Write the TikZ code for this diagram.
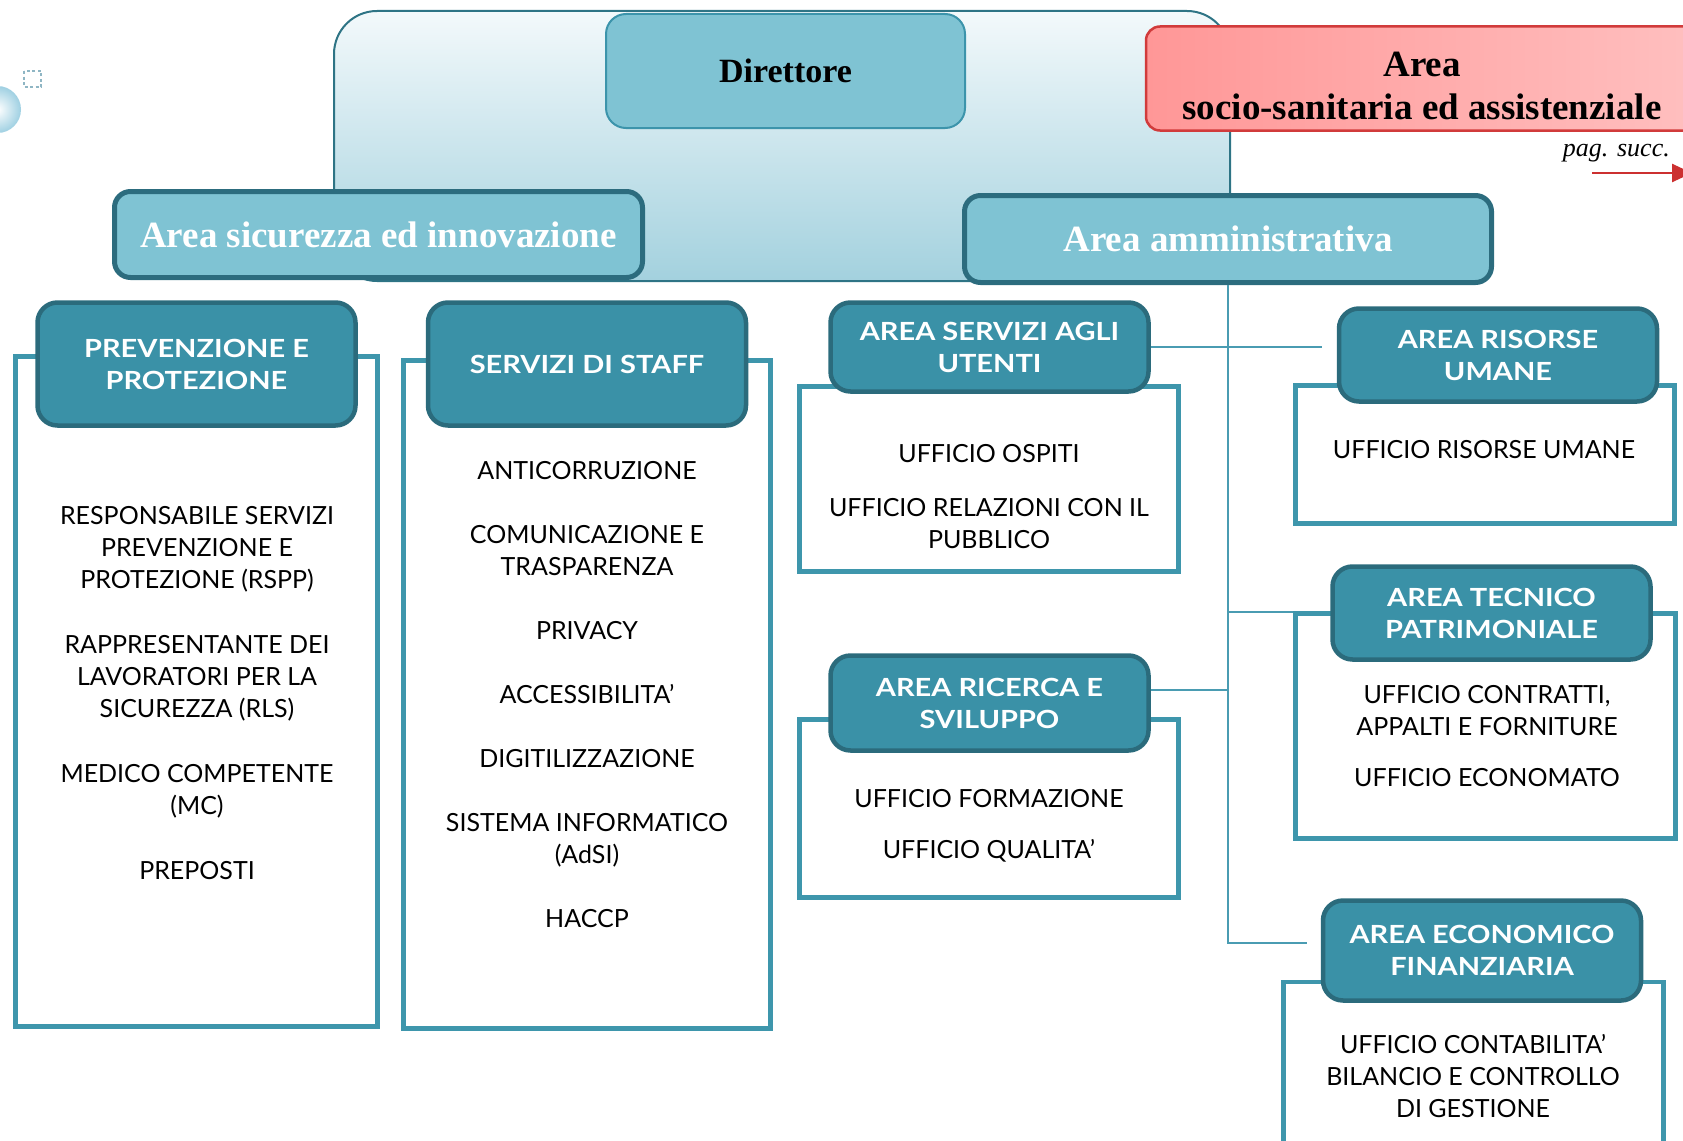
\documentclass[tikz,border=0pt]{standalone}
\usepackage{fontspec}
\setmainfont{Liberation Serif}
\newfontfamily\bodyfont{Lato}
\newfontfamily\hdrfont[FakeStretch=1.16]{Lato}
\usetikzlibrary{arrows.meta}
\definecolor{hdrfill}{HTML}{3A91A7}
\definecolor{hdrborder}{HTML}{2B6B7C}
\definecolor{bodyborder}{HTML}{3E96AC}
\definecolor{conncol}{HTML}{4A9CB2}
\definecolor{areafill}{HTML}{7FC3D3}
\definecolor{areaborder}{HTML}{2C6C7E}
\definecolor{dirborder}{HTML}{3C94AB}
\definecolor{backtop}{HTML}{F3F9FB}
\definecolor{backbot}{HTML}{A3D1DE}
\definecolor{backborder}{HTML}{2E7485}
\definecolor{redleft}{HTML}{FF9797}
\definecolor{redright}{HTML}{FFC0C0}
\definecolor{redborder}{HTML}{D13B3B}
\definecolor{arrowred}{HTML}{CC3030}
\definecolor{bubble}{HTML}{9FD0E2}
\definecolor{dotsq}{HTML}{8FB6C4}
\begin{document}
\begin{tikzpicture}[x=1pt,y=-1pt,
  hdr/.style={draw=hdrborder, line width=4.5pt, fill=hdrfill, rounded corners=20pt,
    text=white, font=\hdrfont\bfseries\fontsize{25}{32}\selectfont, align=center, inner sep=0pt},
  bodybox/.style={draw=bodyborder, line width=4.5pt, fill=white, inner sep=0pt},
  bodytxt/.style={font=\bodyfont\fontsize{25}{32}\selectfont, align=center, anchor=north, inner sep=0pt, text=black},
  area/.style={draw=areaborder, line width=5pt, fill=areafill, rounded corners=16pt,
    text=white, font=\bfseries\fontsize{37}{40}\selectfont, inner sep=0pt},
  conn/.style={draw=conncol, line width=2pt}]
\useasboundingbox (0,0) rectangle (1683,1140);
% decorations at left
\shade[inner color=white, outer color=bubble] (-2.5,109.5) circle (23.5pt);
\draw[dotsq, line width=2pt, dash pattern=on 3pt off 2.5pt] (24,71) rectangle (41,87);
% backdrop
\path[draw=backborder, line width=2pt, top color=backtop, bottom color=backbot, rounded corners=43pt]
  (334,11) rectangle (1230,281);
% director
\node[draw=dirborder, line width=2pt, fill=areafill, rounded corners=20pt, minimum width=359pt, minimum height=114pt,
  font=\bfseries\fontsize{34}{40}\selectfont, inner sep=0pt] (dir) at (785.5,71) {Direttore};
% red area
\node[draw=redborder, line width=2.5pt, left color=redleft, right color=redright, rounded corners=14pt,
  minimum width=564pt, minimum height=104pt, inner sep=0pt] (red) at (1428,78.5) {};
\node[font=\bfseries\fontsize{37}{43}\selectfont, align=center, anchor=north, inner sep=0pt] (redtxt) at (1422,52)
  {Area\\socio-sanitaria ed assistenziale};
\node[font=\itshape\fontsize{26}{30}\selectfont, anchor=base east, inner sep=0pt] (pag) at (1670,156) {pag. succ.};
\coordinate (arrS) at (1592,173);
\coordinate (arrE) at (1692,173);
\draw[arrowred, line width=2.5pt, -{Triangle[length=20pt,width=18pt]}] (arrS) -- (arrE);
% area boxes
\node[area, minimum width=528pt, minimum height=86pt] (sic) at (378.5,234.5) {Area sicurezza ed innovazione};
\node[area, minimum width=527pt, minimum height=87pt] (amm) at (1228,239) {Area amministrativa};
% connectors
\coordinate (tJ) at (1228,943);
\coordinate (tE) at (1307,943);
\coordinate (uE) at (1322,348);
\coordinate (tT) at (1228,612);
\coordinate (rT) at (1228,690);
\draw[conn] (amm.south) -- (tJ) -- (tE);
% body boxes
\node[bodybox, minimum width=362pt, minimum height=670pt] (prevb) at (196.5,691.5) {};
\node[bodybox, minimum width=367pt, minimum height=668pt] (staffb) at (587,694.5) {};
\node[bodybox, minimum width=379pt, minimum height=185pt] (uteb) at (989,479) {};
\node[bodybox, minimum width=379pt, minimum height=178pt] (ricb) at (989,808.5) {};
\node[bodybox, minimum width=379pt, minimum height=138pt] (risb) at (1485,454.5) {};
\node[bodybox, minimum width=380pt, minimum height=225pt] (tecb) at (1485.5,726) {};
\node[bodybox, minimum width=380pt, minimum height=188pt] (ecob) at (1473.5,1076) {};
% headers
\node[hdr, minimum width=318pt, minimum height=123pt] (prevh) at (196.5,364) {PREVENZIONE E\\PROTEZIONE};
\node[hdr, minimum width=318pt, minimum height=123pt] (staffh) at (587,364) {SERVIZI DI STAFF};
\node[hdr, minimum width=318pt, minimum height=89pt] (uteh) at (989.5,347) {AREA SERVIZI AGLI\\UTENTI};
\node[hdr, minimum width=318pt, minimum height=95pt] (rich) at (989.5,703) {AREA RICERCA E\\SVILUPPO};
\node[hdr, minimum width=318pt, minimum height=93pt] (rish) at (1498,355) {AREA RISORSE\\UMANE};
\node[hdr, minimum width=318pt, minimum height=93pt] (tech) at (1491.5,613) {AREA TECNICO\\PATRIMONIALE};
\node[hdr, minimum width=318pt, minimum height=100pt] (ecoh) at (1482,950.5) {AREA ECONOMICO\\FINANZIARIA};
% other connectors
\draw[conn] (uteh.east) -- (uteh.east -| uE);
\draw[conn] (tT) -- (tT -| tecb.west);
\draw[conn] (rich.east |- rT) -- (rT);
% body texts
\node[bodytxt] (prevt) at (197,506) {RESPONSABILE SERVIZI\\PREVENZIONE E\\PROTEZIONE (RSPP)\\[33pt]RAPPRESENTANTE DEI\\LAVORATORI PER LA\\SICUREZZA (RLS)\\[33pt]MEDICO COMPETENTE\\(MC)\\[33pt]PREPOSTI};
\node[bodytxt] (stafft) at (587,461) {ANTICORRUZIONE\\[32pt]COMUNICAZIONE E\\TRASPARENZA\\[32pt]PRIVACY\\[32pt]ACCESSIBILITA’\\[32pt]DIGITILIZZAZIONE\\[32pt]SISTEMA INFORMATICO\\(AdSI)\\[32pt]HACCP};
\node[bodytxt] (utet) at (989,444) {UFFICIO OSPITI\\[22pt]UFFICIO RELAZIONI CON IL\\PUBBLICO};
\node[bodytxt] (rict) at (989,789) {UFFICIO FORMAZIONE\\[19pt]UFFICIO QUALITA’};
\node[bodytxt] (rist) at (1484,440) {UFFICIO RISORSE UMANE};
\node[bodytxt] (tect) at (1487,685) {UFFICIO CONTRATTI,\\APPALTI E FORNITURE\\[19pt]UFFICIO ECONOMATO};
\node[bodytxt] (ecot) at (1473,1034) {UFFICIO CONTABILITA’\\BILANCIO E CONTROLLO\\DI GESTIONE};
\end{tikzpicture}
\end{document}
